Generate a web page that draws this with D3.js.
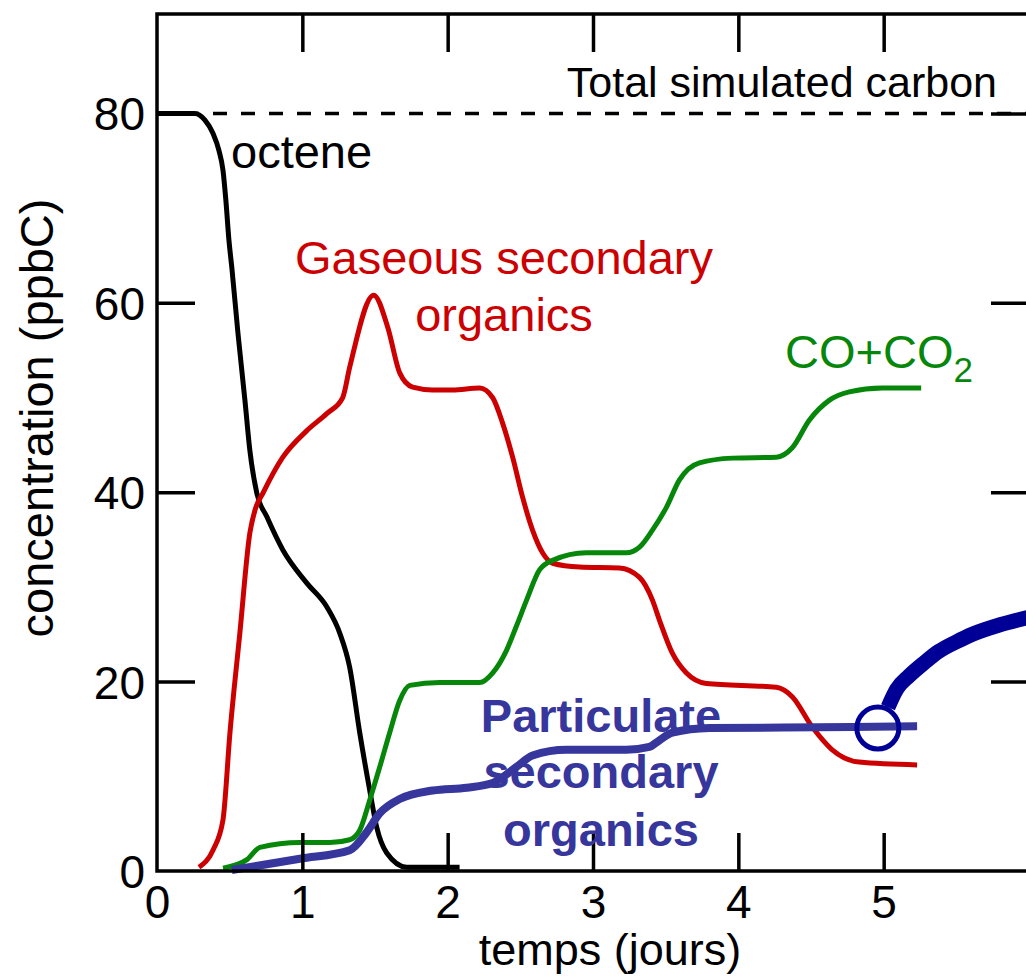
<!DOCTYPE html>
<html>
<head>
<meta charset="utf-8">
<script src="https://cdn.jsdelivr.net/npm/d3@7"></script>
<style>
  html, body { margin: 0; padding: 0; background: #fff; }
  svg { display: block; }
  text { font-family: "Liberation Sans", Arial, Helvetica, sans-serif; }
</style>
</head>
<body>
<script>
// ---------- data (time in days, concentration in ppbC) ----------
const xTickValues = [1, 2, 3, 4, 5];
const xTickLabels = [0, 1, 2, 3, 4, 5];
const yTickValues = [20, 40, 60, 80];
const yTickLabels = [0, 20, 40, 60, 80];
const totalCarbon = 80;

const octene = [
  [0, 80], [0.26, 80], [0.33, 79.3], [0.385, 77.9], [0.426, 76.1], [0.454, 74],
  [0.474, 70.8], [0.495, 66.6], [0.515, 63.7], [0.557, 56.8], [0.605, 49.7],
  [0.639, 44.4], [0.687, 39.9], [0.756, 37.4], [0.866, 33.9], [1.031, 30.4],
  [1.168, 27.9], [1.258, 25.1], [1.326, 21.5], [1.395, 14.6], [1.464, 8.5],
  [1.512, 4.6], [1.581, 1.9], [1.718, 0.4], [2.082, 0.4]
];

const gaseous = [
  [0.289, 0.4], [0.385, 2.2], [0.454, 5.4], [0.502, 14.6], [0.570, 25.1],
  [0.639, 35.7], [0.674, 38.1], [0.729, 39.9], [0.866, 43.7], [1.031, 46.5],
  [1.168, 48.3], [1.278, 50.0], [1.326, 53.2], [1.491, 60.8], [1.588, 57.4],
  [1.670, 52.6], [1.759, 51.1], [1.897, 50.8], [2.034, 50.8], [2.220, 51.0],
  [2.309, 50.0], [2.378, 47.3], [2.447, 43.7], [2.515, 39.5], [2.584, 36.0],
  [2.653, 33.6], [2.722, 32.5], [2.907, 32.1], [3.182, 32.0], [3.320, 31.0],
  [3.409, 28.6], [3.457, 26.5], [3.546, 23.0], [3.643, 20.9], [3.780, 19.8],
  [4.261, 19.4], [4.371, 18.4], [4.509, 15.2], [4.646, 12.8], [4.832, 11.5],
  [5.230, 11.2]
];

const coco2 = [
  [0.454, 0.3], [0.619, 1.2], [0.708, 2.5], [0.983, 3.0], [1.189, 3.0],
  [1.326, 3.3], [1.395, 4.3], [1.464, 7.5], [1.533, 11.0], [1.601, 14.6],
  [1.670, 18.0], [1.739, 19.6], [1.945, 19.9], [2.220, 19.9], [2.309, 20.9],
  [2.405, 23.3], [2.474, 25.9], [2.543, 28.6], [2.632, 31.8], [2.722, 32.8],
  [2.955, 33.6], [3.230, 33.6], [3.320, 34.2], [3.409, 36.0], [3.505, 38.4],
  [3.595, 41.3], [3.732, 43.1], [3.959, 43.6], [4.261, 43.7], [4.371, 44.7],
  [4.488, 47.6], [4.625, 49.7], [4.763, 50.6], [4.990, 51.0], [5.258, 51.0]
];

const particulate = [
  [0.515, 0.1], [0.983, 1.3], [1.326, 2.2], [1.443, 4.1], [1.533, 6.1],
  [1.670, 7.6], [1.897, 8.5], [2.131, 8.8], [2.309, 9.3], [2.474, 11.0],
  [2.584, 12.2], [2.818, 12.8], [3.230, 12.8], [3.388, 13.1], [3.457, 13.8],
  [3.546, 14.6], [3.801, 15.1], [4.784, 15.2], [5.230, 15.3]
];

const extension = [
  [5.03, 17.3], [5.09, 19.2], [5.175, 20.6], [5.28, 22.0], [5.38, 23.2],
  [5.5, 24.2], [5.61, 25.0], [5.8, 26.0], [6.0, 26.8]
];

const marker = [[4.96, 15.1]];

// ---------- layout ----------
const W = 1026, H = 979;
const x = d3.scaleLinear().domain([0, 6]).range([157, 1029]);
const y = d3.scaleLinear().domain([0, 90.5]).range([871, 14]);
const FONT = 46;
const TICK = 38;

const svg = d3.select("body").append("svg").attr("width", W).attr("height", H);

const line = d3.line().x(d => x(d[0])).y(d => y(d[1])).curve(d3.curveMonotoneX);

// curves
svg.append("path").datum(octene).attr("d", line)
  .attr("fill", "none").attr("stroke", "#000").attr("stroke-width", 5);
svg.append("path").datum(gaseous).attr("d", line)
  .attr("fill", "none").attr("stroke", "#cc0000").attr("stroke-width", 5);
svg.append("path").datum(coco2).attr("d", line)
  .attr("fill", "none").attr("stroke", "#06870a").attr("stroke-width", 5);
svg.append("path").datum(particulate).attr("d", line)
  .attr("fill", "none").attr("stroke", "#36369c").attr("stroke-width", 8);
svg.append("path").datum(extension).attr("d", line)
  .attr("fill", "none").attr("stroke", "#000096").attr("stroke-width", 15);
svg.selectAll("circle.marker").data(marker).enter().append("circle")
  .attr("class", "marker")
  .attr("cx", d => x(d[0])).attr("cy", d => y(d[1])).attr("r", 21)
  .attr("fill", "none").attr("stroke", "#000096").attr("stroke-width", 5);

// total carbon dashed line
svg.append("line")
  .attr("x1", x(0)).attr("x2", x(6)).attr("y1", y(totalCarbon)).attr("y2", y(totalCarbon))
  .attr("stroke", "#000").attr("stroke-width", 3.5).attr("stroke-dasharray", "14,14");

// axes
function styleAxis(g) {
  g.select(".domain").remove();
  g.attr("font-family", null).attr("font-size", null);
  g.selectAll(".tick line").attr("stroke", "#000").attr("stroke-width", 3.5);
  g.selectAll(".tick text").attr("fill", "#000")
    .style("font-family", "'Liberation Sans', Arial, sans-serif").style("font-size", FONT + "px");
}

const gBottom = svg.append("g").attr("transform", `translate(0,${y(0)})`)
  .call(d3.axisBottom(x).tickValues(xTickLabels).tickFormat(d3.format("d"))
    .tickSizeInner(-TICK).tickSizeOuter(0).tickPadding(14));
styleAxis(gBottom);
gBottom.selectAll(".tick").filter(d => !xTickValues.includes(d)).select("line").remove();

const gTop = svg.append("g").attr("transform", `translate(0,${y(90.5)})`)
  .call(d3.axisTop(x).tickValues(xTickValues).tickFormat("")
    .tickSizeInner(-TICK).tickSizeOuter(0));
styleAxis(gTop);

const gLeft = svg.append("g").attr("transform", `translate(${x(0)},0)`)
  .call(d3.axisLeft(y).tickValues(yTickLabels).tickFormat(d3.format("d"))
    .tickSizeInner(-TICK).tickSizeOuter(0).tickPadding(12));
styleAxis(gLeft);
gLeft.selectAll(".tick").filter(d => !yTickValues.includes(d)).select("line").remove();
gLeft.selectAll(".tick text").attr("dy", "0.36em");

const gRight = svg.append("g").attr("transform", `translate(${x(6)},0)`)
  .call(d3.axisRight(y).tickValues(yTickValues).tickFormat("")
    .tickSizeInner(-TICK).tickSizeOuter(0));
styleAxis(gRight);

// frame
svg.append("rect")
  .attr("x", x(0)).attr("y", y(90.5))
  .attr("width", x(6) - x(0)).attr("height", y(0) - y(90.5))
  .attr("fill", "none").attr("stroke", "#000").attr("stroke-width", 3.5);

// axis titles
svg.append("text").attr("x", 610).attr("y", 965).attr("text-anchor", "middle")
  .style("font-size", "45px").attr("fill", "#000").text("temps (jours)");
svg.append("text").attr("transform", "translate(53,418) rotate(-90)").attr("text-anchor", "middle")
  .style("font-size", "47px").attr("fill", "#000").text("concentration (ppbC)");

// annotations
svg.append("text").attr("x", 997).attr("y", 97).attr("text-anchor", "end")
  .style("font-size", "43px").attr("fill", "#000").text("Total simulated carbon");
svg.append("text").attr("x", 231).attr("y", 168)
  .style("font-size", "47px").attr("fill", "#000").text("octene");
svg.append("text").attr("x", 504).attr("y", 274).attr("text-anchor", "middle")
  .style("font-size", "47px").attr("fill", "#cc0000").text("Gaseous secondary");
svg.append("text").attr("x", 504).attr("y", 331).attr("text-anchor", "middle")
  .style("font-size", "47px").attr("fill", "#cc0000").text("organics");

const co = svg.append("text").attr("x", 785).attr("y", 368)
  .style("font-size", "47px").attr("fill", "#06870a");
co.append("tspan").text("CO+CO");
co.append("tspan").attr("dy", 14).style("font-size", "35px").text("2");

const part = svg.append("text").attr("text-anchor", "middle")
  .style("font-size", "47px").style("font-weight", "bold").attr("fill", "#36369c");
[["Particulate", 732], ["secondary", 788], ["organics", 846]].forEach(([t, yy]) => {
  part.append("tspan").attr("x", 601).attr("y", yy).text(t);
});
</script>
</body>
</html>
